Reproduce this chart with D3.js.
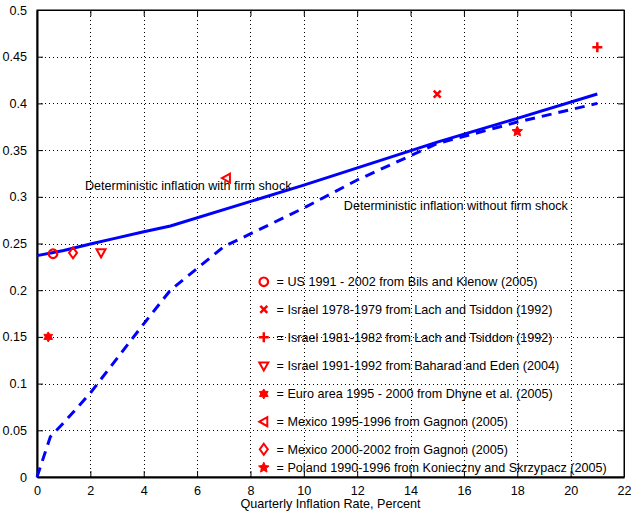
<!DOCTYPE html>
<html>
<head>
    <title>Inflation vs Frequency</title>
    <style>
        body { margin: 0; background: #fff; }
        svg text { font-family: "Liberation Sans", Arial, sans-serif; }
        .grid line { stroke: #000; stroke-width: 1; stroke-dasharray: 1,3; shape-rendering: crispEdges; }
        .frame { fill: none; stroke: #000; stroke-width: 1; }
    </style>
</head>
<body>
<div id="chart"></div>
<script src="https://d3js.org/d3.v7.min.js"></script>
<script>
    // model curves: [inflation, value]
    const withShock = [[0, 0.237], [1, 0.2425], [2, 0.2495], [3, 0.256], [4, 0.2625], [5, 0.2687],
        [10, 0.3125], [15, 0.3585], [18, 0.384], [21, 0.410]];
    const withoutShock = [[0, 0], [0.5, 0.043], [1, 0.058], [2, 0.09], [3, 0.127], [4, 0.164], [5, 0.2],
        [7, 0.2466], [10, 0.288], [12, 0.318], [15, 0.357], [18, 0.380], [21, 0.400]];

    // empirical points
    const studies = [
        { name: "= US 1991 - 2002 from Bils and Klenow (2005)", x: 0.6, y: 0.239, sym: "circle" },
        { name: "= Israel 1978-1979 from Lach and Tsiddon (1992)", x: 15, y: 0.41, sym: "x" },
        { name: "= Israel 1981-1982 from Lach and Tsiddon (1992)", x: 21, y: 0.46, sym: "plus" },
        { name: "= Israel 1991-1992 from Baharad and Eden (2004)", x: 2.4, y: 0.24, sym: "tridown" },
        { name: "= Euro area 1995 - 2000 from Dhyne et al. (2005)", x: 0.42, y: 0.15, sym: "hexagram" },
        { name: "= Mexico 1995-1996 from Gagnon (2005)", x: 7.1, y: 0.32, sym: "trileft" },
        { name: "= Mexico 2000-2002 from Gagnon (2005)", x: 1.35, y: 0.24, sym: "diamond" },
        { name: "= Poland 1990-1996 from Konieczny and Skrzypacz (2005)", x: 18, y: 0.37, sym: "star" }
    ];
    const legendY = [0.209, 0.1795, 0.1496, 0.1188, 0.0889, 0.0592, 0.0297, 0.010];

    const xTicks = d3.range(0, 23, 2);
    const yTicks = [0, 0.05, 0.1, 0.15, 0.2, 0.25, 0.3, 0.35, 0.4, 0.45, 0.5];

    const width = 631, height = 512;
    const margin = { top: 10, right: 7, bottom: 35, left: 37 };
    const fs = 12.6;

    const svg = d3.select("#chart").append("svg")
        .attr("width", width).attr("height", height);

    const x = d3.scaleLinear().domain([0, 22]).range([margin.left, width - margin.right]);
    const y = d3.scaleLinear().domain([0, 0.5]).range([height - margin.bottom, margin.top]);

    // grid
    const grid = svg.append("g").attr("class", "grid");
    grid.selectAll(".gx").data(xTicks.slice(1, -1)).enter().append("line")
        .attr("x1", d => Math.round(x(d)) + 0.5).attr("x2", d => Math.round(x(d)) + 0.5)
        .attr("y1", y(0)).attr("y2", y(0.5));
    grid.selectAll(".gy").data(yTicks.slice(1, -1)).enter().append("line")
        .attr("y1", d => Math.round(y(d)) + 0.5).attr("y2", d => Math.round(y(d)) + 0.5)
        .attr("x1", x(0)).attr("x2", x(22));

    // axes with inward ticks
    const tickLen = 6;
    svg.append("g").attr("transform", `translate(0,${y(0)})`)
        .call(d3.axisBottom(x).tickValues(xTicks).tickSizeInner(-tickLen).tickSizeOuter(0).tickPadding(9))
        .call(g => g.select(".domain").attr("stroke-width", 2));
    svg.append("g").attr("transform", `translate(0,${y(0.5)})`)
        .call(d3.axisTop(x).tickValues(xTicks).tickSizeInner(-tickLen).tickSizeOuter(0).tickFormat(""));
    svg.append("g").attr("transform", `translate(${x(0)},0)`)
        .call(d3.axisLeft(y).tickValues(yTicks).tickSizeInner(-tickLen).tickSizeOuter(0).tickPadding(10).tickFormat(d3.format("")))
        .call(g => g.select(".domain").attr("stroke-width", 2));
    svg.append("g").attr("transform", `translate(${x(22)},0)`)
        .call(d3.axisRight(y).tickValues(yTicks).tickSizeInner(-tickLen).tickSizeOuter(0).tickFormat(""));

    svg.selectAll(".tick text").attr("font-size", fs).attr("fill", "#000")
        .attr("font-family", "'Liberation Sans', Arial, sans-serif");

    svg.append("rect").attr("class", "frame")
        .attr("x", x(0)).attr("y", y(0.5))
        .attr("width", x(22) - x(0)).attr("height", y(0) - y(0.5));

    // curves
    const line = d3.line().x(d => x(d[0])).y(d => y(d[1]));
    svg.append("path").datum(withShock).attr("d", line)
        .attr("fill", "none").attr("stroke", "#0000ff").attr("stroke-width", 3);
    svg.append("path").datum(withoutShock).attr("d", line)
        .attr("fill", "none").attr("stroke", "#0000ff").attr("stroke-width", 3)
        .attr("stroke-dasharray", "10,7");

    // n-point star path
    function starPath(n, outer, inner, rot) {
        const pts = [];
        for (let k = 0; k < 2 * n; k++) {
            const r = k % 2 === 0 ? outer : inner;
            const a = rot + Math.PI * k / n;
            pts.push([r * Math.sin(a), -r * Math.cos(a)]);
        }
        return d3.line()(pts) + "Z";
    }

    // marker shapes
    function drawMarker(g, sym) {
        const red = "#ff0000";
        if (sym === "circle") {
            g.append("circle").attr("r", 4.3).attr("fill", "none").attr("stroke", red).attr("stroke-width", 2.2);
        } else if (sym === "x") {
            g.append("path").attr("d", "M-3.5,-3.5L3.5,3.5M-3.5,3.5L3.5,-3.5").attr("stroke", red).attr("stroke-width", 2.5);
        } else if (sym === "plus") {
            g.append("path").attr("d", "M-5,0L5,0M0,-5L0,5").attr("stroke", red).attr("stroke-width", 2.5);
        } else if (sym === "tridown") {
            g.append("path").attr("d", "M-4.5,-3.5L4.5,-3.5L0,4.5Z").attr("fill", "none").attr("stroke", red).attr("stroke-width", 2);
        } else if (sym === "trileft") {
            g.append("path").attr("d", "M-4.5,0L3.5,-4.5L3.5,4.5Z").attr("fill", "none").attr("stroke", red).attr("stroke-width", 2);
        } else if (sym === "diamond") {
            g.append("path").attr("d", "M0,-5.5L4,0L0,5.5L-4,0Z").attr("fill", "none").attr("stroke", red).attr("stroke-width", 2);
        } else if (sym === "hexagram") {
            g.append("path").attr("d", starPath(6, 5, 3, 0)).attr("fill", red)
                .attr("stroke", red).attr("stroke-width", 1);
        } else if (sym === "star") {
            g.append("path").attr("d", starPath(5, 5.5, 2.6, 0)).attr("fill", red)
                .attr("stroke", red).attr("stroke-width", 1);
        }
    }

    studies.forEach((s, i) => {
        drawMarker(svg.append("g").attr("transform", `translate(${x(s.x)},${y(s.y)})`), s.sym);
        drawMarker(svg.append("g").attr("transform", `translate(${x(8.5)},${y(legendY[i])})`), s.sym);
        svg.append("text").attr("x", x(8.98)).attr("y", y(legendY[i])).attr("dy", "0.35em")
            .attr("font-size", fs).attr("fill", "#000").text(s.name);
    });

    // curve labels
    svg.append("text").attr("x", x(1.8)).attr("y", y(0.307))
        .attr("font-size", fs).attr("fill", "#000").text("Deterministic inflation with firm shock");
    svg.append("text").attr("x", x(11.5)).attr("y", y(0.286))
        .attr("font-size", fs).attr("fill", "#000").text("Deterministic inflation without firm shock");

    svg.append("text").attr("x", (x(0) + x(22)) / 2).attr("y", 508).attr("text-anchor", "middle")
        .attr("font-size", fs).attr("fill", "#000").text("Quarterly Inflation Rate, Percent");
</script>
</body>
</html>
